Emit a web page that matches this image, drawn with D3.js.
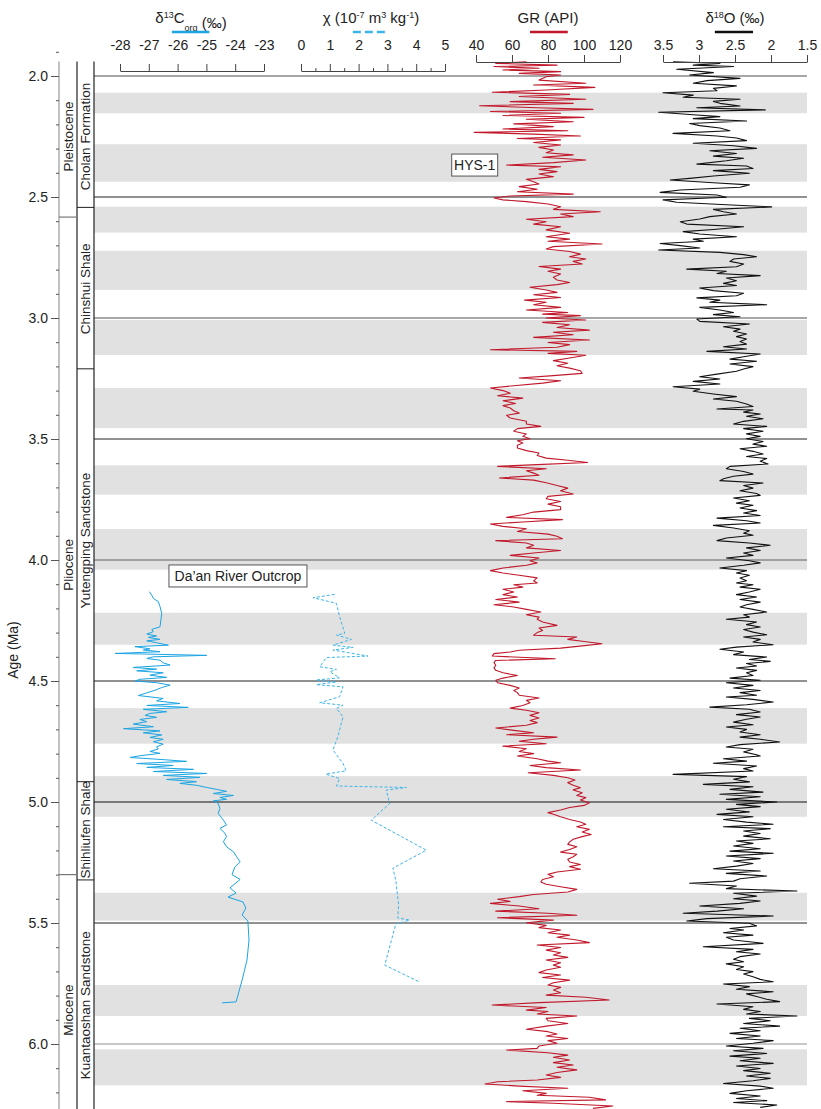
<!DOCTYPE html>
<html>
<head>
<meta charset="utf-8">
<script src="https://cdn.jsdelivr.net/npm/d3@7/dist/d3.min.js"></script>
<style>
  body { margin: 0; background: #fff; }
  svg text { font-family: "Liberation Sans", Arial, sans-serif; fill: #222; }
</style>
</head>
<body>
<svg id="chart" width="821" height="1109"></svg>
<script>

// ---------- data (age in Ma, value) ----------

// HYS-1 gamma ray (API)
var grData = [
  [1.941,68],[1.948,51],[1.955,85],[1.961,50],[1.968,75],[1.975,55],[1.982,87],[1.989,64],[1.996,87],[2.003,79],[2.017,75],[2.030,101],[2.037,72],[2.047,106],[2.058,79],[2.067,49],[2.076,92],[2.085,64],[2.096,101],[2.106,59],[2.113,94],[2.123,42],[2.131,74],[2.138,105],[2.147,48],[2.154,87],[2.163,55],[2.171,100],[2.179,68],[2.189,94],[2.198,61],[2.209,83],[2.219,55],[2.226,91],[2.233,39],[2.240,72],[2.248,98],[2.258,63],[2.264,87],[2.275,72],[2.285,87],[2.295,75],[2.306,83],[2.317,79],[2.326,94],[2.336,77],[2.347,101],[2.358,83],[2.368,57],[2.375,87],[2.386,75],[2.395,85],[2.405,75],[2.416,83],[2.427,68],[2.437,72],[2.446,75],[2.457,64],[2.468,74],[2.478,63],[2.488,94],[2.496,59],[2.504,50],[2.512,55],[2.519,68],[2.529,80],[2.540,87],[2.551,83],[2.561,109],[2.570,87],[2.581,94],[2.592,68],[2.602,79],[2.612,72],[2.623,87],[2.636,79],[2.650,92],
  [2.664,79],[2.674,92],[2.683,80],[2.694,110],[2.705,83],[2.715,79],[2.725,92],[2.736,98],[2.747,92],[2.756,101],[2.766,94],[2.777,99],[2.787,75],[2.798,87],[2.807,80],[2.818,87],[2.832,83],[2.843,85],[2.853,92],[2.862,85],[2.873,70],[2.884,79],[2.894,85],[2.904,72],[2.915,87],[2.926,67],[2.935,79],[2.945,72],[2.956,87],[2.967,68],[2.977,91],[2.984,77],[2.990,98],[3.000,79],[3.008,101],[3.018,77],[3.028,92],[3.039,85],[3.050,103],[3.059,83],[3.069,94],[3.080,72],[3.091,103],[3.101,80],[3.110,92],[3.121,85],[3.131,48],[3.138,96],[3.146,80],[3.154,101],[3.165,92],[3.176,83],[3.187,91],[3.197,85],[3.207,92],[3.218,98],[3.229,99],[3.238,83],[3.248,64],[3.259,87],[3.269,77],[3.280,61],[3.289,48],[3.300,55],[3.311,59],[3.321,52],[3.331,66],[3.342,55],[3.353,62],[3.362,55],[3.372,59],
  [3.383,61],[3.393,64],[3.402,57],[3.413,59],[3.427,68],[3.438,68],[3.448,76],[3.457,63],[3.468,61],[3.479,68],[3.489,66],[3.499,70],[3.507,63],[3.517,66],[3.526,63],[3.537,63],[3.548,68],[3.558,75],[3.568,74],[3.579,79],[3.588,91],[3.597,102],[3.606,74],[3.613,52],[3.623,79],[3.631,68],[3.641,72],[3.650,75],[3.661,53],[3.670,72],[3.681,79],[3.692,85],[3.703,91],[3.714,87],[3.727,94],[3.737,80],[3.747,79],[3.758,87],[3.769,80],[3.780,87],[3.792,87],[3.802,72],[3.813,66],[3.824,57],[3.833,88],[3.843,66],[3.851,48],[3.861,55],[3.871,68],[3.882,63],[3.893,80],[3.902,85],[3.912,88],[3.920,51],[3.930,68],[3.939,72],[3.950,68],[3.961,87],[3.971,72],[3.981,59],[3.992,75],[4.003,70],[4.012,74],[4.022,68],[4.033,55],[4.044,48],[4.054,55],[4.063,64],[4.074,74],[4.086,72],[4.095,74],
  [4.102,61],[4.112,66],[4.121,55],[4.132,61],[4.143,55],[4.153,63],[4.163,51],[4.174,64],[4.185,50],[4.194,61],[4.204,68],[4.215,76],[4.226,68],[4.236,75],[4.245,74],[4.256,77],[4.270,85],[4.281,75],[4.291,77],[4.300,74],[4.311,72],[4.318,96],[4.328,91],[4.336,99],[4.346,110],[4.355,99],[4.364,87],[4.373,64],[4.380,59],[4.387,50],[4.397,49],[4.408,84],[4.415,51],[4.424,50],[4.435,51],[4.446,50],[4.456,51],[4.466,55],[4.477,63],[4.488,55],[4.497,51],[4.507,52],[4.518,59],[4.529,64],[4.539,61],[4.548,63],[4.559,64],[4.570,75],[4.580,68],[4.590,70],[4.601,66],[4.612,59],[4.621,68],[4.631,75],[4.642,70],[4.653,75],[4.663,70],[4.672,74],[4.683,68],[4.694,51],[4.704,61],[4.714,72],[4.722,57],[4.732,85],[4.741,72],[4.749,64],[4.759,79],[4.769,55],[4.780,68],[4.791,64],[4.800,72],[4.810,63],
  [4.821,74],[4.831,80],[4.838,87],[4.849,70],[4.858,79],[4.868,98],[4.879,69],[4.890,83],[4.900,91],[4.909,95],[4.920,91],[4.931,94],[4.941,98],[4.950,94],[4.962,99],[4.973,96],[4.982,101],[4.992,98],[5.003,103],[5.014,100],[5.023,92],[5.033,87],[5.044,80],[5.051,83],[5.061,87],[5.072,92],[5.083,98],[5.092,101],[5.102,96],[5.113,103],[5.124,99],[5.134,104],[5.143,99],[5.154,94],[5.165,92],[5.175,91],[5.185,96],[5.196,92],[5.207,87],[5.216,96],[5.226,94],[5.237,91],[5.248,92],[5.258,98],[5.267,92],[5.278,98],[5.289,85],[5.299,80],[5.309,83],[5.320,77],[5.331,76],[5.340,79],[5.350,87],[5.361,96],[5.372,91],[5.382,72],[5.391,64],[5.402,52],[5.411,59],[5.419,48],[5.430,64],[5.441,75],[5.451,51],[5.460,80],[5.468,96],[5.478,52],[5.488,83],[5.499,68],[5.510,79],[5.519,75],[5.529,87],
  [5.540,80],[5.550,92],[5.559,85],[5.570,96],[5.581,103],[5.591,74],[5.601,87],[5.612,79],[5.623,87],[5.632,83],[5.642,91],[5.653,79],[5.664,87],[5.674,83],[5.683,87],[5.694,79],[5.705,75],[5.715,87],[5.725,77],[5.736,92],[5.747,83],[5.756,80],[5.766,87],[5.777,83],[5.788,87],[5.798,79],[5.807,101],[5.818,114],[5.829,75],[5.839,49],[5.849,79],[5.860,68],[5.866,80],[5.876,74],[5.884,96],[5.894,79],[5.904,80],[5.915,91],[5.926,79],[5.939,68],[5.949,80],[5.959,85],[5.967,79],[5.977,91],[5.986,80],[5.997,85],[6.008,75],[6.018,74],[6.025,57],[6.036,80],[6.046,91],[6.055,83],[6.066,92],[6.077,83],[6.087,94],[6.096,85],[6.107,96],[6.118,85],[6.128,79],[6.138,87],[6.149,74],[6.156,52],[6.165,45],[6.174,64],[6.183,91],[6.193,66],[6.204,79],[6.212,74],[6.220,103],[6.231,112],[6.238,57],[6.245,83],[6.256,116],[6.266,105]
];

// benthic d18O stack (permil)
var d18oData = [
  [1.941,3.36],[1.948,2.71],[1.955,3.08],[1.961,2.52],[1.972,3.31],[1.986,2.80],[1.996,3.13],[2.010,2.43],[2.019,2.89],[2.030,3.08],[2.041,2.48],[2.051,2.80],[2.061,2.75],[2.069,3.50],[2.079,3.08],[2.088,3.22],[2.096,2.43],[2.105,2.80],[2.113,2.71],[2.124,2.43],[2.131,3.03],[2.140,2.08],[2.150,3.56],[2.160,3.08],[2.168,2.71],[2.176,3.08],[2.186,2.34],[2.196,3.13],[2.205,2.99],[2.215,2.71],[2.226,2.57],[2.237,3.36],[2.248,2.75],[2.256,2.48],[2.267,2.34],[2.278,3.08],[2.288,2.52],[2.299,2.20],[2.309,2.85],[2.320,2.48],[2.331,2.80],[2.340,2.38],[2.350,2.62],[2.364,3.03],[2.372,2.34],[2.382,2.25],[2.391,2.80],[2.402,2.30],[2.413,2.80],[2.423,3.13],[2.430,3.40],[2.441,2.80],[2.450,2.30],[2.460,2.43],[2.471,3.26],[2.481,3.54],[2.492,2.75],[2.501,2.62],[2.512,3.50],[2.522,3.31],[2.532,2.62],[2.541,1.99],[2.551,2.80],[2.561,2.66],[2.570,2.48],[2.581,2.85],[2.591,2.99],[2.602,3.26],[2.612,3.17],[2.623,2.38],[2.634,2.80],[2.643,3.22],[2.653,2.99],
  [2.664,2.48],[2.674,3.08],[2.683,2.94],[2.692,3.54],[2.701,3.26],[2.711,2.99],[2.719,3.56],[2.729,2.71],[2.738,2.38],[2.747,2.20],[2.756,2.52],[2.766,2.57],[2.777,2.38],[2.788,2.48],[2.798,3.17],[2.807,2.62],[2.816,2.75],[2.825,2.15],[2.835,2.62],[2.846,2.48],[2.857,2.66],[2.866,2.48],[2.876,2.99],[2.887,2.80],[2.898,2.38],[2.908,2.48],[2.917,3.03],[2.926,2.71],[2.935,2.85],[2.945,2.06],[2.956,2.99],[2.967,2.71],[2.977,2.52],[2.986,2.80],[2.995,2.43],[3.004,3.03],[3.014,2.99],[3.025,2.30],[3.036,2.66],[3.046,2.43],[3.055,2.52],[3.066,2.34],[3.077,2.48],[3.087,2.34],[3.097,2.43],[3.108,2.34],[3.119,2.66],[3.128,2.34],[3.138,2.89],[3.149,2.15],[3.160,2.38],[3.170,2.57],[3.179,2.20],[3.190,2.57],[3.201,2.25],[3.211,2.38],[3.220,2.48],[3.232,2.75],[3.243,2.99],[3.252,2.71],[3.262,3.08],[3.273,2.71],[3.284,3.36],[3.294,2.99],[3.303,3.08],[3.314,2.80],[3.325,2.48],[3.335,2.80],[3.344,2.48],[3.355,2.34],[3.366,2.25],[3.376,2.75],
  [3.380,2.25],[3.389,2.38],[3.397,2.15],[3.406,2.34],[3.416,2.11],[3.427,2.38],[3.438,2.52],[3.448,2.06],[3.457,2.38],[3.468,2.11],[3.479,2.34],[3.489,2.15],[3.499,2.34],[3.510,2.11],[3.521,2.25],[3.530,2.06],[3.540,2.43],[3.551,2.25],[3.562,2.11],[3.572,2.34],[3.581,2.06],[3.592,2.15],[3.603,2.04],[3.613,2.57],[3.623,2.62],[3.634,2.38],[3.645,2.25],[3.654,2.52],[3.664,2.66],[3.672,2.71],[3.682,2.11],[3.692,2.38],[3.703,2.25],[3.714,2.43],[3.725,2.20],[3.733,2.15],[3.744,2.52],[3.755,2.30],[3.765,2.48],[3.774,2.25],[3.785,2.43],[3.796,2.20],[3.806,2.38],[3.816,2.15],[3.827,2.75],[3.838,2.34],[3.847,2.15],[3.857,2.80],[3.868,2.52],[3.879,2.30],[3.889,2.38],[3.898,2.25],[3.909,2.62],[3.920,2.75],[3.930,2.30],[3.939,2.01],[3.950,2.34],[3.961,2.15],[3.971,2.38],[3.981,2.25],[3.992,2.62],[4.003,2.30],[4.012,2.15],[4.022,2.38],[4.033,2.71],[4.044,2.34],[4.054,2.48],[4.063,2.30],[4.074,2.43],[4.086,2.34],[4.095,2.48],
  [4.102,2.25],[4.112,2.43],[4.121,2.15],[4.132,2.30],[4.143,2.48],[4.153,2.20],[4.163,2.43],[4.174,2.15],[4.185,2.34],[4.194,2.43],[4.204,2.25],[4.215,2.06],[4.226,2.38],[4.236,2.30],[4.245,2.62],[4.256,2.20],[4.267,2.34],[4.277,2.15],[4.287,2.38],[4.298,2.25],[4.309,2.06],[4.318,2.38],[4.328,2.15],[4.339,2.25],[4.350,1.97],[4.360,2.48],[4.369,2.71],[4.380,2.38],[4.391,2.52],[4.401,2.06],[4.411,2.30],[4.419,2.01],[4.428,2.34],[4.438,2.20],[4.446,2.48],[4.456,2.20],[4.466,2.34],[4.477,2.25],[4.488,2.57],[4.497,2.15],[4.507,2.62],[4.518,2.25],[4.529,2.52],[4.539,2.15],[4.548,2.43],[4.559,2.20],[4.566,2.62],[4.576,2.25],[4.587,1.97],[4.598,2.34],[4.608,2.85],[4.617,2.30],[4.628,2.15],[4.639,2.48],[4.649,2.15],[4.658,2.34],[4.670,2.52],[4.681,2.25],[4.690,2.62],[4.700,2.34],[4.711,2.43],[4.722,2.15],[4.732,2.43],[4.741,2.15],[4.752,1.88],[4.763,2.43],[4.773,2.62],[4.782,2.25],[4.793,2.38],[4.805,2.20],
  [4.810,2.15],[4.821,2.66],[4.831,2.34],[4.840,2.80],[4.851,2.20],[4.862,2.38],[4.872,2.25],[4.886,3.36],[4.895,2.34],[4.906,2.52],[4.917,2.30],[4.927,2.94],[4.937,2.25],[4.948,2.57],[4.959,2.11],[4.968,2.71],[4.978,2.15],[4.989,2.62],[5.000,1.92],[5.010,2.48],[5.019,2.15],[5.030,2.62],[5.041,2.30],[5.051,2.75],[5.061,2.25],[5.072,2.66],[5.083,2.34],[5.092,1.97],[5.102,2.66],[5.110,2.01],[5.120,2.38],[5.130,2.15],[5.141,2.38],[5.152,2.01],[5.161,2.48],[5.171,2.25],[5.182,2.52],[5.193,2.15],[5.203,2.57],[5.212,1.97],[5.223,2.62],[5.234,2.15],[5.244,2.52],[5.254,2.25],[5.265,2.48],[5.276,2.80],[5.285,2.15],[5.295,2.62],[5.306,2.06],[5.317,2.43],[5.327,2.52],[5.336,3.13],[5.347,2.48],[5.358,2.62],[5.368,1.64],[5.377,2.52],[5.389,2.20],[5.400,2.52],[5.409,2.15],[5.419,2.43],[5.430,2.99],[5.441,2.38],[5.451,2.75],[5.460,3.22],[5.471,1.97],[5.482,2.89],[5.492,3.17],[5.501,2.30],[5.512,2.20],[5.523,2.57],
  [5.529,2.38],[5.540,2.66],[5.550,2.25],[5.559,2.62],[5.570,2.52],[5.584,2.11],[5.598,2.94],[5.609,2.25],[5.619,2.48],[5.628,2.15],[5.639,2.43],[5.650,2.52],[5.660,2.38],[5.669,2.62],[5.681,2.38],[5.692,2.48],[5.701,2.25],[5.711,2.38],[5.722,2.25],[5.733,2.15],[5.743,1.97],[5.752,2.66],[5.763,2.30],[5.774,2.48],[5.784,1.97],[5.793,2.34],[5.804,2.20],[5.815,2.06],[5.825,1.88],[5.835,2.75],[5.846,2.25],[5.857,2.38],[5.866,2.15],[5.876,2.34],[5.884,1.64],[5.894,2.30],[5.904,2.01],[5.915,2.38],[5.926,1.88],[5.935,2.43],[5.945,2.15],[5.956,2.57],[5.967,2.15],[5.977,2.48],[5.986,1.97],[5.997,2.25],[6.008,2.62],[6.018,2.11],[6.028,2.52],[6.039,2.06],[6.050,2.57],[6.059,2.15],[6.069,2.43],[6.080,1.97],[6.091,2.48],[6.101,2.15],[6.110,2.38],[6.121,2.01],[6.132,2.34],[6.142,2.01],[6.152,2.25],[6.163,2.66],[6.174,2.15],[6.183,1.97],[6.193,2.34],[6.204,2.57],[6.215,2.15],[6.225,2.48],[6.234,2.06],[6.242,2.52],[6.252,1.92],[6.262,2.15]
];

// Da'an River outcrop d13C org (permil)
var d13cData = [
  [4.131,-26.98],[4.145,-26.90],[4.159,-26.84],[4.172,-26.67],[4.193,-26.61],[4.221,-26.55],[4.248,-26.58],[4.276,-26.61],[4.287,-26.90],[4.296,-26.84],[4.306,-27.07],[4.314,-26.73],[4.320,-27.02],[4.328,-26.61],[4.334,-27.07],[4.342,-26.73],[4.352,-26.32],[4.358,-27.48],[4.367,-26.96],[4.372,-27.19],[4.379,-26.61],[4.386,-28.17],[4.394,-24.99],[4.400,-26.84],[4.407,-27.07],[4.414,-26.61],[4.425,-26.50],[4.434,-26.26],[4.444,-27.54],[4.451,-26.73],[4.458,-27.42],[4.466,-26.50],[4.476,-26.96],[4.485,-26.38],[4.493,-27.31],[4.500,-27.48],[4.507,-26.73],[4.517,-26.26],[4.527,-26.55],[4.538,-26.78],[4.549,-27.07],[4.560,-27.36],[4.572,-26.50],[4.582,-26.73],[4.593,-25.92],[4.601,-27.07],[4.609,-25.63],[4.617,-27.19],[4.627,-26.38],[4.634,-26.96],[4.642,-27.13],[4.650,-26.73],[4.659,-27.31],[4.668,-27.07],[4.678,-27.54],[4.689,-26.84],[4.697,-27.88],[4.706,-26.61],[4.714,-27.19],[4.723,-26.55],[4.733,-26.96],[4.741,-26.50],[4.751,-26.84],[4.761,-26.50],[4.772,-26.73],[4.781,-26.67],[4.791,-26.96],[4.799,-26.61],[4.809,-27.31],[4.816,-27.65],[4.824,-26.61],[4.832,-25.69],[4.841,-27.42],[4.849,-26.15],[4.857,-27.07],[4.865,-25.45],[4.874,-26.84],[4.882,-24.99],[4.890,-26.50],[4.898,-25.22],[4.907,-26.38],[4.916,-25.34],[4.923,-25.92],[4.931,-25.34],[4.940,-24.99],[4.948,-24.64],[4.956,-24.30],[4.965,-24.76],[4.973,-24.06],[4.981,-24.53],[4.989,-24.30],[4.995,-24.76],[5.006,-24.59],[5.027,-24.53],[5.047,-24.59],[5.075,-24.41],[5.095,-24.30],[5.109,-24.53],[5.130,-24.35],[5.143,-24.30],[5.164,-24.41],[5.185,-24.30],[5.206,-24.06],[5.226,-23.95],[5.247,-23.83],[5.268,-24.01],[5.300,-24.11],[5.320,-23.83],[5.355,-24.18],[5.376,-23.97],[5.393,-24.25],[5.413,-23.73],[5.438,-23.63],[5.467,-23.76],[5.492,-23.56],[5.570,-23.52],[5.653,-23.59],[5.736,-23.76],[5.826,-23.97],[5.830,-24.46]
];

// Da'an River outcrop magnetic susceptibility (1e-7 m3/kg)
var chiData = [
  [4.142,1.17],[4.156,0.42],[4.179,1.23],[4.234,1.34],[4.303,1.52],[4.310,1.23],[4.328,1.75],[4.352,1.11],[4.361,1.81],[4.372,1.11],[4.397,2.33],[4.403,0.88],[4.441,0.65],[4.452,1.23],[4.462,1.00],[4.487,1.34],[4.496,0.53],[4.504,1.23],[4.515,0.53],[4.524,1.46],[4.565,1.34],[4.590,0.65],[4.600,1.46],[4.613,1.23],[4.648,1.46],[4.730,1.28],[4.785,1.11],[4.841,1.46],[4.871,1.57],[4.885,0.86],[4.903,1.34],[4.934,1.23],[4.940,3.66],[4.951,2.96],[5.006,3.08],[5.075,2.44],[5.199,4.35],[5.274,3.19],[5.322,3.29],[5.426,3.39],[5.479,3.36],[5.488,3.77],[5.504,3.29],[5.674,2.91],[5.744,4.12]
];

// grey shaded intervals (Ma)
var bands = [[2.069,2.154],[2.282,2.437],[2.540,2.647],[2.722,2.884],[3.008,3.153],[3.289,3.455],[3.609,3.730],[3.872,4.040],[4.218,4.350],[4.612,4.759],[4.893,5.061],[5.375,5.490],[5.756,5.884],[6.022,6.171]];

// horizontal reference ages
var ageLines = [2.0, 2.5, 3.0, 3.5, 4.0, 4.5, 5.0, 5.5, 6.0];

// name, top age, base age, age where the label is centred
var epochs = [["Pleistocene", 1.94, 2.583, 2.25], ["Pliocene", 2.583, 5.30, 4.02], ["Miocene", 5.30, 6.27, 5.86]];
var formations = [["Cholan Formation", 1.94, 2.543, 2.25], ["Chinshui Shale", 2.543, 3.21, 2.88], ["Yutengping Sandstone", 3.21, 4.916, 3.92], ["Shihliufen Shale", 4.916, 5.322, 5.115], ["Kuantaoshan Sandstone", 5.322, 6.27, 5.84]];

var d13cTicks = [-28, -27, -26, -25, -24, -23];
var chiTicks = [0, 1, 2, 3, 4, 5];
var grTicks = [40, 60, 80, 100, 120];
var d18oTicks = [3.5, 3, 2.5, 2, 1.5];
var ageTicks = [2.0, 2.5, 3.0, 3.5, 4.0, 4.5, 5.0, 5.5, 6.0];

// ---------- layout ----------
var ageTop = 1.94, ageBottom = 6.27;
var plotLeft = 94, plotRight = 807;
var colEpoch = 59, colForm = 77;

var svg = d3.select("#chart");

var y = d3.scaleLinear().domain([2, 6]).range([76, 1044]);
var xC = d3.scaleLinear().domain([-28, -23]).range([120, 264]);
var xChi = d3.scaleLinear().domain([0, 5]).range([301, 445]);
var xGR = d3.scaleLinear().domain([40, 120]).range([476, 620]);
var xO = d3.scaleLinear().domain([3.5, 1.5]).range([663, 807]);

//grey bands
svg.append("g").selectAll("rect")
  .data(bands)
  .enter()
  .append("rect")
    .attr("x", plotLeft)
    .attr("width", plotRight - plotLeft)
    .attr("y", function(d) { return y(d[0]); })
    .attr("height", function(d) { return y(d[1]) - y(d[0]); })
    .attr("fill", "#e1e1e1");

//age reference lines, half-Ma in black, whole Ma in grey
svg.append("g").selectAll("line")
  .data(ageLines)
  .enter()
  .append("line")
    .attr("x1", plotLeft)
    .attr("x2", plotRight)
    .attr("y1", function(d) { return y(d); })
    .attr("y2", function(d) { return y(d); })
    .attr("stroke", function(d) {
      if (d == 6) return "#b4b4b4";
      if (d == 5) return "#555";
      return (d % 1 == 0) ? "#8a8a8a" : "#222";
    })
    .attr("stroke-width", function(d) { return (d % 1 == 0) ? 1.6 : 1; });

// curves
function ageLine(xs) {
  return d3.line()
    .x(function(d) { return xs(d[1]); })
    .y(function(d) { return y(d[0]); });
}

svg.append("path").datum(grData)
  .attr("d", ageLine(xGR))
  .attr("fill", "none").attr("stroke", "#c1192b").attr("stroke-width", 1.1)
  .attr("stroke-linejoin", "round");

svg.append("path").datum(d18oData)
  .attr("d", ageLine(xO))
  .attr("fill", "none").attr("stroke", "#111").attr("stroke-width", 1.1)
  .attr("stroke-linejoin", "round");

svg.append("path").datum(d13cData)
  .attr("d", ageLine(xC))
  .attr("fill", "none").attr("stroke", "#1ba5e3").attr("stroke-width", 1);

svg.append("path").datum(chiData)
  .attr("d", ageLine(xChi))
  .attr("fill", "none").attr("stroke", "#3cb4ea").attr("stroke-width", 1)
  .attr("stroke-dasharray", "3,2");

// stratigraphic columns
var strat = svg.append("g");

strat.selectAll("line.vert")
  .data([colEpoch, colForm, plotLeft])
  .enter()
  .append("line")
    .attr("x1", function(d) { return d; })
    .attr("x2", function(d) { return d; })
    .attr("y1", y(ageTop))
    .attr("y2", y(ageBottom))
    .attr("stroke", function(d, i) { return i == 0 ? "#999" : "#222"; })
    .attr("stroke-width", 1.2);

strat.selectAll("line.epoch")
  .data(epochs.slice(1))
  .enter()
  .append("line")
    .attr("x1", colEpoch).attr("x2", colForm)
    .attr("y1", function(d) { return y(d[1]); })
    .attr("y2", function(d) { return y(d[1]); })
    .attr("stroke", "#777").attr("stroke-width", 1.2);

strat.selectAll("line.form")
  .data(formations.slice(1))
  .enter()
  .append("line")
    .attr("x1", colForm).attr("x2", plotLeft)
    .attr("y1", function(d) { return y(d[1]); })
    .attr("y2", function(d) { return y(d[1]); })
    .attr("stroke", "#222").attr("stroke-width", 1);

function rotLabel(data, cx) {
  strat.selectAll(null)
    .data(data)
    .enter()
    .append("text")
      .attr("transform", function(d) {
        return "translate(" + cx + "," + y(d[3]) + ") rotate(-90)";
      })
      .attr("text-anchor", "middle")
      .attr("dy", "0.35em")
      .style("font-size", "13.5px")
      .text(function(d) { return d[0]; });
}
rotLabel(epochs, (colEpoch + colForm) / 2);
rotLabel(formations, (colForm + plotLeft) / 2);

// age axis
var ageAxis = svg.append("g")
  .attr("transform", "translate(" + colEpoch + ",0)");

ageAxis.call(d3.axisLeft(y)
  .tickValues(d3.range(19, 63).map(function(i) { return i / 10; }))
  .tickSize(3)
  .tickFormat(""));

ageAxis.call(function(g) {
  g.select(".domain").remove();
});

var ageMajor = svg.append("g")
  .attr("transform", "translate(" + colEpoch + ",0)")
  .call(d3.axisLeft(y)
    .tickValues(ageTicks)
    .tickSize(8)
    .tickPadding(3)
    .tickFormat(d3.format(".1f")));
ageMajor.select(".domain").remove();
ageMajor.selectAll("text").style("font-size", "14px").attr("fill", "#222");
svg.selectAll(".tick line").attr("stroke", "#555");

svg.append("text")
  .attr("transform", "translate(18," + y(4.372) + ") rotate(-90)")
  .attr("text-anchor", "middle")
  .style("font-size", "14px")
  .text("Age (Ma)");

// top axes
function topAxis(scale, ticks, yPos, minor) {
  var g = svg.append("g").attr("transform", "translate(0," + yPos + ")");
  if (minor) {
    g.append("g").call(d3.axisTop(scale).tickValues(minor).tickSize(3).tickFormat(""))
      .select(".domain").remove();
  }
  g.append("g").call(d3.axisTop(scale)
      .tickValues(ticks)
      .tickSize(7)
      .tickSizeOuter(0)
      .tickPadding(yPos - 57)
      .tickFormat(function(d) { return d; }));
  g.selectAll("text").style("font-size", "14px").attr("fill", "#222");
  g.selectAll("line, path").attr("stroke", "#444");
  return g;
}

topAxis(xC, d13cTicks, 71);
topAxis(xChi, chiTicks, 71, [0.5, 1.5, 2.5, 3.5, 4.5]);
topAxis(xGR, grTicks, 62);
topAxis(xO, d18oTicks, 62);

// column titles with legend swatches
function title(cx, parts) {
  var t = svg.append("text")
    .attr("x", cx).attr("y", 23)
    .attr("text-anchor", "middle")
    .style("font-size", "15px");
  parts.forEach(function(p) {
    var ts = t.append("tspan").text(p[0]);
    if (p[1] == "sup") ts.attr("dy", -5).style("font-size", "9px");
    if (p[1] == "sub") ts.attr("dy", 8).style("font-size", "9px");
    if (p[1] == "back") ts.attr("dy", p[2]);
  });
}

title(191, [["δ"], ["13", "sup"], ["C", "back", 5], ["org", "sub"], [" (‰)", "back", -3]]);
title(371, [["χ (10"], ["-7", "sup"], [" m", "back", 5], ["3", "sup"], [" kg", "back", 5], ["-1", "sup"], [")", "back", 5]]);
title(548, [["GR (API)"]]);
title(735, [["δ"], ["18", "sup"], ["O (‰)", "back", 5]]);

function swatch(x1, x2, color, dash) {
  svg.append("line")
    .attr("x1", x1).attr("x2", x2).attr("y1", 32).attr("y2", 32)
    .attr("stroke", color).attr("stroke-width", 2.5)
    .attr("stroke-dasharray", dash || null);
}
swatch(xC(-26.2), xC(-24.9), "#1ba5e3");
swatch(xChi(1.8), xChi(3.05), "#3cb4ea", "8,4");
swatch(xGR(70), xGR(91), "#c1192b");
swatch(xO(2.78), xO(2.25), "#111");

// site labels
function boxLabel(xLeft, yMid, w, txt) {
  svg.append("rect")
    .attr("x", xLeft).attr("y", yMid - 11)
    .attr("width", w).attr("height", 22)
    .attr("fill", "#fff").attr("stroke", "#555").attr("stroke-width", 1);
  svg.append("text")
    .attr("x", xLeft + w / 2).attr("y", yMid)
    .attr("dy", "0.35em")
    .attr("text-anchor", "middle")
    .style("font-size", "14px")
    .text(txt);
}
boxLabel(xGR(26.5), y(2.368), 46, "HYS-1");
boxLabel(xC(-26.3), y(4.066), 138, "Da\u2019an River Outcrop");

</script>
</body>
</html>
